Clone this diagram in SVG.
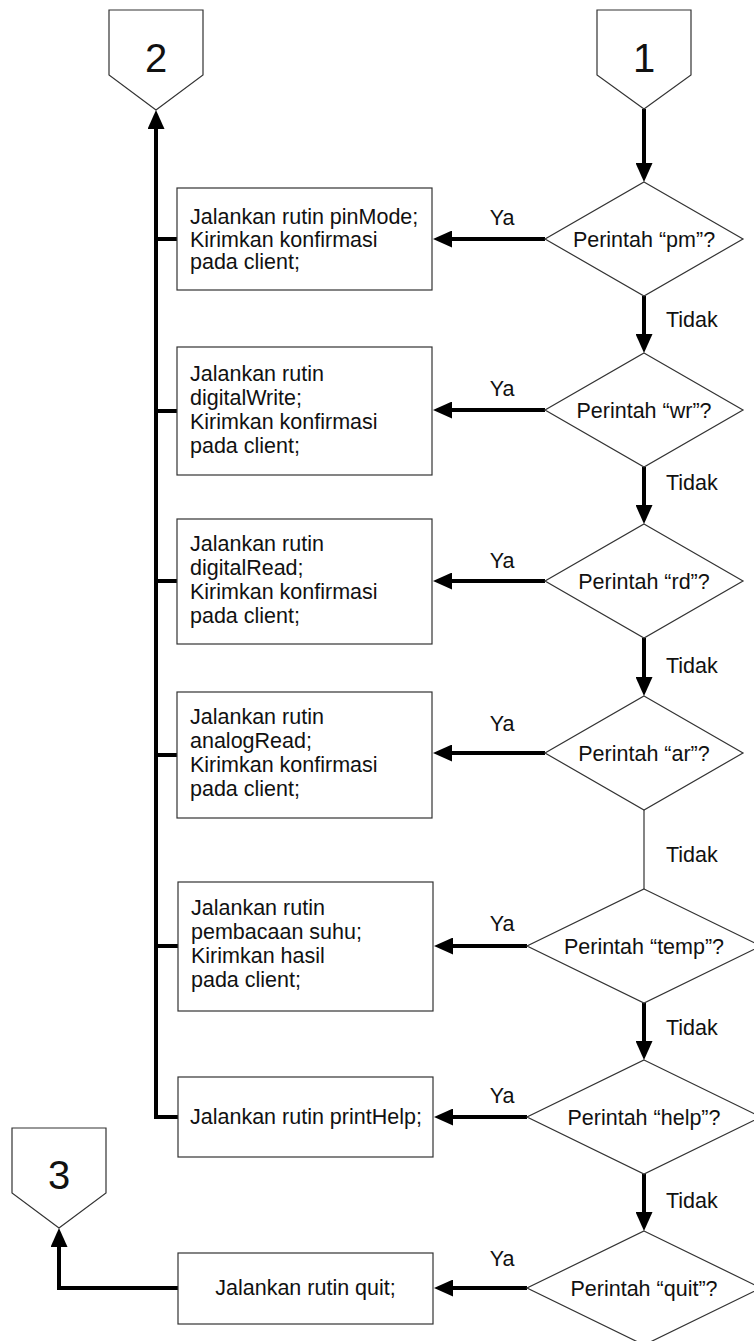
<svg xmlns="http://www.w3.org/2000/svg" width="754" height="1341" viewBox="0 0 754 1341">
<style>
  .shape { fill: #ffffff; stroke: #333333; stroke-width: 1.2; }
  .flow { fill: none; stroke: #000000; stroke-width: 4; }
  .thin { fill: none; stroke: #333333; stroke-width: 1.2; }
  text { font-family: "Liberation Sans", Arial, Helvetica, sans-serif; fill: #111111; }
  .t { font-size: 21.5px; }
  .c { font-size: 21.5px; text-anchor: middle; }
  .num { font-size: 40px; text-anchor: middle; }
</style>
<defs>
  <marker id="ah" markerUnits="userSpaceOnUse" markerWidth="19" markerHeight="17" viewBox="0 0 19 17" refX="1" refY="8.5" orient="auto">
    <path d="M0,0 L19,8.5 L0,17 Z" fill="#000000"/>
  </marker>
</defs>

<g id="connectors">
  <line class="flow" x1="644" y1="109" x2="644" y2="164" marker-end="url(#ah)"/>
  <line class="flow" x1="545" y1="239" x2="451" y2="239" marker-end="url(#ah)"/>
  <line class="flow" x1="644" y1="296" x2="644" y2="335" marker-end="url(#ah)"/>
  <line class="flow" x1="545" y1="410" x2="451" y2="410" marker-end="url(#ah)"/>
  <line class="flow" x1="644" y1="467" x2="644" y2="506" marker-end="url(#ah)"/>
  <line class="flow" x1="545" y1="581" x2="451" y2="581" marker-end="url(#ah)"/>
  <line class="flow" x1="644" y1="638" x2="644" y2="678" marker-end="url(#ah)"/>
  <line class="flow" x1="545" y1="753" x2="451" y2="753" marker-end="url(#ah)"/>
  <line class="thin" x1="644" y1="810" x2="644" y2="889"/>
  <line class="flow" x1="527" y1="946" x2="452" y2="946" marker-end="url(#ah)"/>
  <line class="flow" x1="644" y1="1003" x2="644" y2="1042" marker-end="url(#ah)"/>
  <line class="flow" x1="527" y1="1117" x2="452" y2="1117" marker-end="url(#ah)"/>
  <line class="flow" x1="644" y1="1174" x2="644" y2="1213" marker-end="url(#ah)"/>
  <line class="flow" x1="527" y1="1288" x2="452" y2="1288" marker-end="url(#ah)"/>
  <polyline class="flow" points="178,1288 59,1288 59,1246" marker-end="url(#ah)"/>
  <polyline class="flow" points="178,1117 156,1117 156,128" marker-end="url(#ah)"/>
  <line class="flow" x1="156" y1="239" x2="177" y2="239"/>
  <line class="flow" x1="156" y1="411" x2="177" y2="411"/>
  <line class="flow" x1="156" y1="581" x2="177" y2="581"/>
  <line class="flow" x1="156" y1="755" x2="177" y2="755"/>
  <line class="flow" x1="156" y1="946" x2="178" y2="946"/>
  <text class="c" x="502" y="225">Ya</text>
  <text class="c" x="502" y="396">Ya</text>
  <text class="c" x="502" y="568">Ya</text>
  <text class="c" x="502" y="731">Ya</text>
  <text class="c" x="502" y="931">Ya</text>
  <text class="c" x="502" y="1103">Ya</text>
  <text class="c" x="502" y="1266">Ya</text>
  <text class="t" x="666" y="327">Tidak</text>
  <text class="t" x="666" y="490">Tidak</text>
  <text class="t" x="666" y="673">Tidak</text>
  <text class="t" x="666" y="862">Tidak</text>
  <text class="t" x="666" y="1035">Tidak</text>
  <text class="t" x="666" y="1208">Tidak</text>
</g>

<g id="conn1">
  <polygon class="shape" points="597,10 691,10 691,75 644,109 597,75"/>
  <text class="num" x="644" y="72">1</text>
</g>
<g id="conn2">
  <polygon class="shape" points="109,10 203,10 203,75 156,110 109,75"/>
  <text class="num" x="156" y="72">2</text>
</g>
<g id="conn3">
  <polygon class="shape" points="12,1128 106,1128 106,1193 59,1228 12,1193"/>
  <text class="num" x="59" y="1189">3</text>
</g>

<g id="dec-pm">
  <polygon class="shape" points="644,182 743,239 644,296 545,239"/>
  <text class="c" x="644" y="246.5">Perintah “pm”?</text>
</g>
<g id="dec-wr">
  <polygon class="shape" points="644,353 743,410 644,467 545,410"/>
  <text class="c" x="644" y="417.5">Perintah “wr”?</text>
</g>
<g id="dec-rd">
  <polygon class="shape" points="644,524 743,581 644,638 545,581"/>
  <text class="c" x="644" y="588.5">Perintah “rd”?</text>
</g>
<g id="dec-ar">
  <polygon class="shape" points="644,696 743,753 644,810 545,753"/>
  <text class="c" x="644" y="760.5">Perintah “ar”?</text>
</g>
<g id="dec-temp">
  <polygon class="shape" points="644,889 761,946 644,1003 527,946"/>
  <text class="c" x="644" y="953.5">Perintah “temp”?</text>
</g>
<g id="dec-help">
  <polygon class="shape" points="644,1060 761,1117 644,1174 527,1117"/>
  <text class="c" x="644" y="1124.5">Perintah “help”?</text>
</g>
<g id="dec-quit">
  <polygon class="shape" points="644,1231 761,1288 644,1345 527,1288"/>
  <text class="c" x="644" y="1295.5">Perintah “quit”?</text>
</g>

<g id="box-pm">
  <rect class="shape" x="177" y="188" width="255" height="102"/>
  <text class="t" x="190" y="224">Jalankan rutin pinMode;</text>
  <text class="t" x="190" y="246.5">Kirimkan konfirmasi</text>
  <text class="t" x="190" y="269">pada client;</text>
</g>
<g id="box-wr">
  <rect class="shape" x="177" y="347" width="255" height="128"/>
  <text class="t" x="190" y="381">Jalankan rutin</text>
  <text class="t" x="190" y="405">digitalWrite;</text>
  <text class="t" x="190" y="429">Kirimkan konfirmasi</text>
  <text class="t" x="190" y="453">pada client;</text>
</g>
<g id="box-rd">
  <rect class="shape" x="177" y="519" width="255" height="125"/>
  <text class="t" x="190" y="551">Jalankan rutin</text>
  <text class="t" x="190" y="575">digitalRead;</text>
  <text class="t" x="190" y="599">Kirimkan konfirmasi</text>
  <text class="t" x="190" y="623">pada client;</text>
</g>
<g id="box-ar">
  <rect class="shape" x="177" y="692" width="255" height="126"/>
  <text class="t" x="190" y="724">Jalankan rutin</text>
  <text class="t" x="190" y="748">analogRead;</text>
  <text class="t" x="190" y="772">Kirimkan konfirmasi</text>
  <text class="t" x="190" y="796">pada client;</text>
</g>
<g id="box-temp">
  <rect class="shape" x="178" y="882" width="255" height="129"/>
  <text class="t" x="191" y="915">Jalankan rutin</text>
  <text class="t" x="191" y="939">pembacaan suhu;</text>
  <text class="t" x="191" y="963">Kirimkan hasil</text>
  <text class="t" x="191" y="987">pada client;</text>
</g>
<g id="box-help">
  <rect class="shape" x="178" y="1077" width="255" height="80"/>
  <text class="t" x="190" y="1124">Jalankan rutin printHelp;</text>
</g>
<g id="box-quit">
  <rect class="shape" x="178" y="1253" width="255" height="71"/>
  <text class="c" x="305.5" y="1295">Jalankan rutin quit;</text>
</g>
</svg>
